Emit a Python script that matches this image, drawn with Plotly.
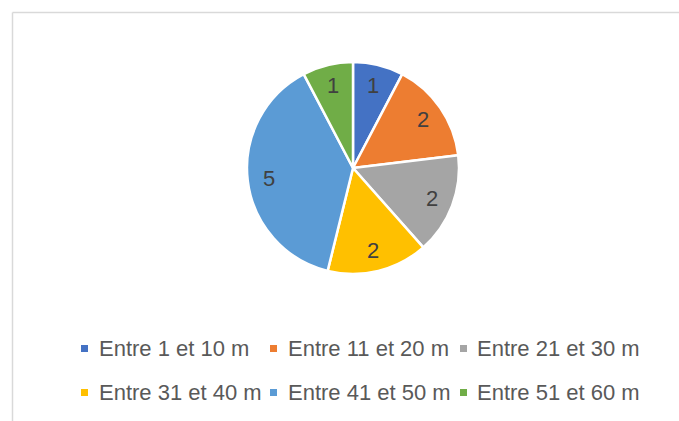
import math
import plotly.graph_objects as go

labels = ["Entre 1 et 10 m", "Entre 11 et 20 m", "Entre 21 et 30 m",
          "Entre 31 et 40 m", "Entre 41 et 50 m", "Entre 51 et 60 m"]
values = [1, 2, 2, 2, 5, 1]
colors = ["#4472C4", "#ED7D31", "#A5A5A5", "#FFC000", "#5B9BD5", "#70AD47"]

W, H = 679, 421
FONT = "Liberation Sans, Arial, sans-serif"

cx, cy, r = 353, 168, 106
fig = go.Figure(go.Pie(
    labels=labels, values=values, sort=False, direction="clockwise", rotation=0,
    marker=dict(colors=colors, line=dict(color="white", width=2.5)),
    textinfo="none",
    domain=dict(x=[(cx - r) / W, (cx + r) / W], y=[1 - (cy + r) / H, 1 - (cy - r) / H]),
    showlegend=False, hoverinfo="label+value",
))

shapes = [
    dict(type="line", xref="paper", yref="paper", x0=12.5 / W, x1=1, y0=1 - 12.5 / H, y1=1 - 12.5 / H,
         line=dict(color="#D9D9D9", width=1.5)),
    dict(type="line", xref="paper", yref="paper", x0=12.5 / W, x1=12.5 / W, y0=0, y1=1 - 12.5 / H,
         line=dict(color="#D9D9D9", width=1.5)),
]
annotations = []

# data labels placed along each slice's mid-angle (derived from the values)
total = sum(values)
acc = 0
for v in values:
    mid = (acc + v / 2) / total * 2 * math.pi
    acc += v
    lr = 0.8 * r
    px = cx + lr * math.sin(mid)
    py = cy - lr * math.cos(mid)
    annotations.append(dict(text=str(v), xref="paper", yref="paper", x=px / W, y=1 - py / H,
                            xanchor="center", yanchor="middle", showarrow=False,
                            font=dict(family=FONT, size=22, color="#404040")))

col_sym = [81, 270, 460]
col_txt = [97, 286, 475]
row_y = [348, 392]
for i, (lab, col) in enumerate(zip(labels, colors)):
    c, rw = i % 3, i // 3
    sx, sy = col_sym[c], row_y[rw]
    shapes.append(dict(type="rect", xref="paper", yref="paper",
                       x0=sx / W, x1=(sx + 7) / W, y0=1 - (sy + 4) / H, y1=1 - (sy - 3) / H,
                       fillcolor=col, line=dict(width=0)))
    annotations.append(dict(text=lab, xref="paper", yref="paper", x=col_txt[c] / W, y=1 - sy / H,
                            xanchor="left", yanchor="middle", showarrow=False,
                            font=dict(family=FONT, size=22, color="#595959")))

fig.update_layout(
    width=W, height=H, margin=dict(l=0, r=0, t=0, b=0),
    paper_bgcolor="white", plot_bgcolor="white",
    shapes=shapes, annotations=annotations,
)
fig.write_html("out.html", config={"displayModeBar": False},
               post_script="document.body.style.margin='0';")
